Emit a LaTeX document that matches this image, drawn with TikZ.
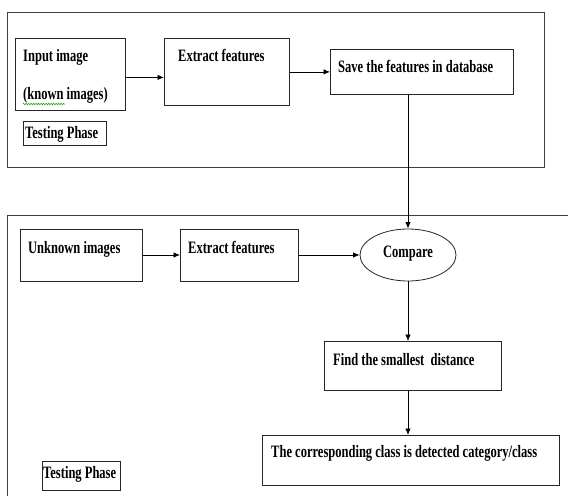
\documentclass[tikz,border=0pt]{standalone}
\usepackage{fontspec}
\setmainfont{Liberation Serif}[FakeStretch=0.72]
\usetikzlibrary{arrows.meta,shapes.geometric,decorations.pathmorphing}
\begin{document}
\begin{tikzpicture}[x=1pt,y=-1pt,
  box/.style={draw=black!85, line width=0.8pt, anchor=north west, inner sep=0pt},
  lbl/.style={anchor=base west, inner sep=0pt, font=\fontsize{17.4}{19}\selectfont\bfseries},
  arr/.style={-{Latex[length=6.5pt,width=5.5pt]}, line width=0.8pt},
  frame/.style={draw=black!75, line width=0.9pt}]
\useasboundingbox (0,0) rectangle (568,496);
% outer frames
\draw[frame] (7,12) rectangle (544,167);
\draw[frame] (568,215) -- (7,215) -- (7,496);
% training part
\node[box, minimum width=110pt, minimum height=72pt] (in1) at (15,38) {};
\node[lbl] (in1a) at (23,61) {Input image};
\node[lbl] (in1b) at (23,99) {(known images)};
\draw[green!60!black, line width=0.5pt, decorate, decoration={zigzag, amplitude=0.8pt, segment length=2.5pt}] (23,104) -- (65,104);
\node[box, minimum width=83pt, minimum height=24pt] (tp1) at (23,121) {};
\node[lbl] (tp1t) at (25,138) {Testing Phase};
\node[box, minimum width=125pt, minimum height=67pt] (ext1) at (164,38) {};
\node[lbl] (ext1t) at (178,61) {Extract features};
\node[box, minimum width=183pt, minimum height=45pt] (save) at (330,49) {};
\node[lbl] (savet) at (338,72) {Save the features in database};
% testing part
\node[box, minimum width=122pt, minimum height=52pt] (unk) at (20,229) {};
\node[lbl] (unkt) at (28,253) {Unknown images};
\node[box, minimum width=118pt, minimum height=52pt] (ext2) at (180,229) {};
\node[lbl] (ext2t) at (188,253) {Extract features};
\node[draw=black!85, line width=0.8pt, ellipse, minimum width=96pt, minimum height=52pt, inner sep=0pt] (cmp) at (408,255) {};
\node[lbl, anchor=base] (cmpt) at (408,257) {Compare};
\node[box, minimum width=177pt, minimum height=49pt] (find) at (324,341) {};
\node[lbl] (findt) at (333,365) {Find the smallest\ \ distance};
\node[box, minimum width=297pt, minimum height=50pt] (corr) at (262,435) {};
\node[lbl] (corrt) at (271,457) {The corresponding class is detected category/class};
\node[box, minimum width=78pt, minimum height=29pt] (tp2) at (42,461) {};
\node[lbl] (tp2t) at (43,478) {Testing Phase};
% connectors
\draw[arr] ([yshift=-3pt]in1.east) -- ([yshift=-3pt]in1.east -| ext1.west);
\draw[arr] (ext1.east |- save.west) -- (save.west);
\draw[arr] (save.south -| cmp.north) -- (cmp.north);
\draw[arr] (unk.east |- cmp.west) -- (ext2.west |- cmp.west);
\draw[arr] (ext2.east |- cmp.west) -- (cmp.west);
\draw[arr] (cmp.south) -- (cmp.south |- find.north);
\draw[arr] (find.south -| cmp.south) -- (corr.north -| cmp.south);
\end{tikzpicture}
\end{document}
